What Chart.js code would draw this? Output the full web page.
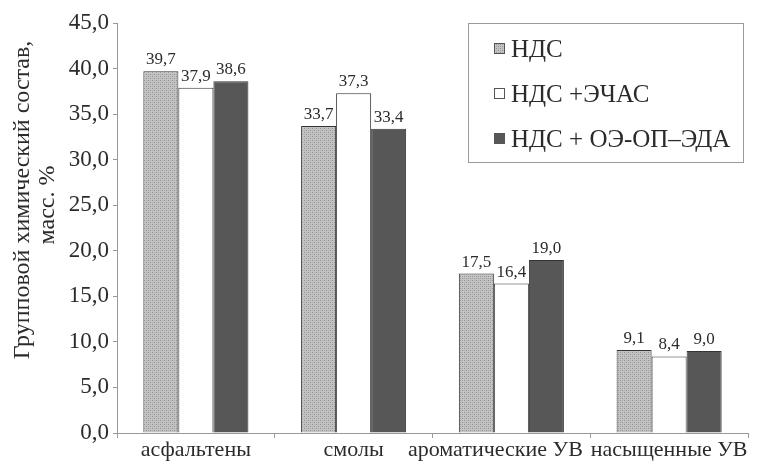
<!DOCTYPE html>
<html>
<head>
<meta charset="utf-8">
<script src="https://cdn.jsdelivr.net/npm/chart.js@4"></script>
<style>
  html, body { margin: 0; padding: 0; background: #fff; }
  #wrap { width: 762px; height: 464px; }
</style>
</head>
<body>
<div id="wrap"><canvas id="chart" width="762" height="464"></canvas></div>
<script>
const categories = ['асфальтены', 'смолы', 'ароматические УВ', 'насыщенные УВ'];
const seriesNames = ['НДС', 'НДС +ЭЧАС', 'НДС + ОЭ-ОП–ЭДА'];
const ndsValues = [39.7, 33.7, 17.5, 9.1];
const echasValues = [37.9, 37.3, 16.4, 8.4];
const oeValues = [38.6, 33.4, 19.0, 9.0];
const yTicks = [0, 5, 10, 15, 20, 25, 30, 35, 40, 45];
const yTitle = ['Групповой химический состав,', 'масс. %'];

const serif = 'Liberation Serif';
const ink = '#2b2b2b';

// speckled grey fill like the scanned original
function speckle() {
    const c = document.createElement('canvas');
    c.width = 4; c.height = 4;
    const g = c.getContext('2d');
    g.fillStyle = '#c4c4c4';
    g.fillRect(0, 0, 4, 4);
    g.fillStyle = '#8e8e8e';
    g.fillRect(0, 0, 1, 1);
    g.fillRect(2, 2, 1, 1);
    g.fillStyle = '#a8a8a8';
    g.fillRect(2, 0, 1, 1);
    g.fillRect(0, 2, 1, 1);
    return g.createPattern(c, 'repeat');
}

const fills = [speckle(), '#ffffff', '#575757'];

const fmt = v => v.toFixed(1).replace('.', ',');
const font = size => size + 'px "' + serif + '", serif';

const valueLabels = {
    id: 'valueLabels',
    afterDatasetsDraw(chart) {
        const ctx = chart.ctx;
        ctx.save();
        ctx.font = font(17);
        ctx.fillStyle = ink;
        ctx.textAlign = 'center';
        ctx.textBaseline = 'bottom';
        chart.data.datasets.forEach((ds, i) => {
            chart.getDatasetMeta(i).data.forEach((bar, j) => {
                ctx.fillText(fmt(ds.data[j]), bar.x, bar.y - 3);
            });
        });
        ctx.restore();
    }
};

// category names: centred under groups, pushed left when they would collide
const categoryLabels = {
    id: 'categoryLabels',
    afterDraw(chart) {
        const ctx = chart.ctx;
        const xs = chart.scales.x;
        ctx.save();
        ctx.font = font(22);
        ctx.fillStyle = ink;
        ctx.textAlign = 'left';
        ctx.textBaseline = 'top';
        const boxes = categories.map((c, i) => {
            const w = ctx.measureText(c).width;
            const cx = xs.getPixelForValue(i);
            return { text: c, left: cx - w / 2, w };
        });
        for (let i = boxes.length - 2; i >= 0; i--) {
            const limit = boxes[i + 1].left - 8;
            if (boxes[i].left + boxes[i].w > limit) boxes[i].left = limit - boxes[i].w;
        }
        boxes.forEach(b => ctx.fillText(b.text, b.left, xs.top + 6));
        ctx.restore();
    }
};

// boxed legend in the upper right + the two-line axis title
const extras = {
    id: 'extras',
    afterDraw(chart) {
        const ctx = chart.ctx;
        ctx.save();
        ctx.strokeStyle = '#9a9a9a';
        ctx.lineWidth = 1;
        ctx.strokeRect(468.5, 23.5, 275, 139);
        ctx.font = font(25);
        ctx.textBaseline = 'middle';
        ctx.textAlign = 'left';
        chart.data.datasets.forEach((ds, i) => {
            const cy = 49 + i * 45;
            ctx.fillStyle = fills[i];
            ctx.fillRect(494, cy - 6, 11, 11);
            ctx.strokeStyle = '#555';
            ctx.strokeRect(494.5, cy - 5.5, 10, 10);
            ctx.fillStyle = ink;
            ctx.fillText(ds.label, 511, cy + 1);
        });

        ctx.font = font(24);
        ctx.textAlign = 'center';
        ctx.textBaseline = 'alphabetic';
        [[29, 200], [54, 205]].forEach(([x, y], i) => {
            ctx.save();
            ctx.translate(x, y);
            ctx.rotate(-Math.PI / 2);
            ctx.fillText(yTitle[i], 0, 0);
            ctx.restore();
        });
        ctx.restore();
    }
};

function draw() {
    new Chart(document.getElementById('chart'), {
        type: 'bar',
        data: {
            labels: categories,
            datasets: [
                { label: seriesNames[0], data: ndsValues, backgroundColor: fills[0] },
                { label: seriesNames[1], data: echasValues, backgroundColor: fills[1] },
                { label: seriesNames[2], data: oeValues, backgroundColor: fills[2] }
            ].map(d => Object.assign(d, {
                borderColor: '#333',
                borderWidth: 1,
                categoryPercentage: 0.666,
                barPercentage: 1.0
            }))
        },
        options: {
            responsive: false,
            animation: false,
            layout: { padding: { top: 23, right: 14, left: 0, bottom: 0 } },
            plugins: {
                legend: { display: false },
                tooltip: { enabled: false }
            },
            scales: {
                x: {
                    grid: { display: true, drawOnChartArea: false, offset: true, tickLength: 5, color: '#999' },
                    border: { color: '#999' },
                    ticks: { display: false },
                    afterFit(scale) { scale.height = 31; }
                },
                y: {
                    min: 0,
                    max: 45,
                    afterBuildTicks(scale) { scale.ticks = yTicks.map(v => ({ value: v })); },
                    grid: { display: true, drawOnChartArea: false, tickLength: 4, color: '#999' },
                    border: { color: '#999' },
                    ticks: {
                        color: ink,
                        font: { family: serif, size: 23 },
                        padding: 4,
                        callback: v => fmt(v)
                    },
                    afterFit(scale) { scale.width = 117; }
                }
            }
        },
        plugins: [valueLabels, categoryLabels, extras]
    });
}

document.fonts.load(font(20)).then(draw, draw);
</script>
</body>
</html>
